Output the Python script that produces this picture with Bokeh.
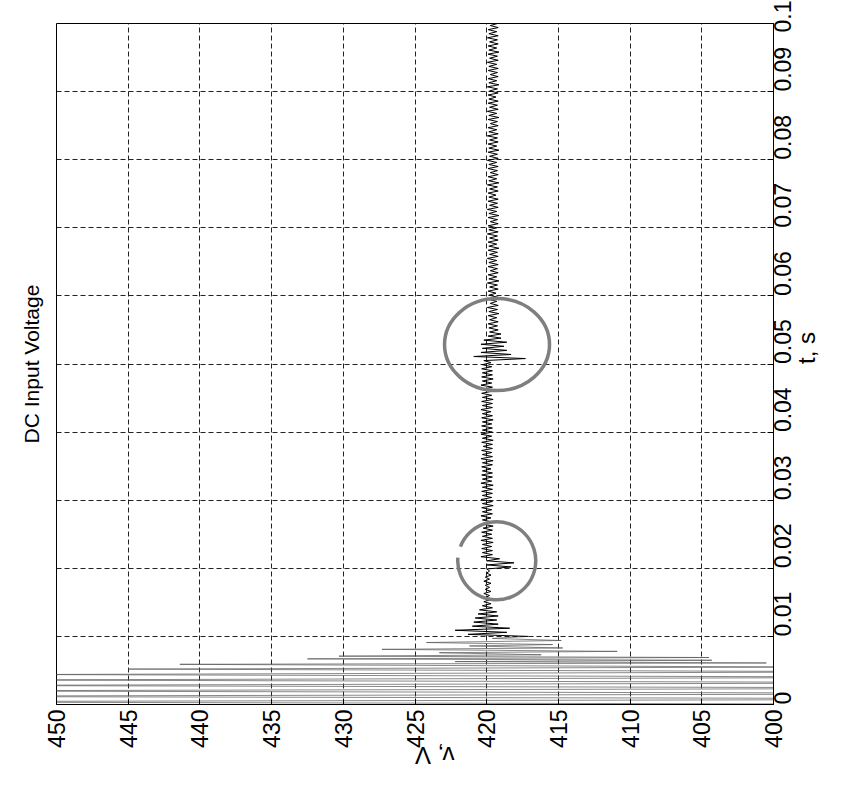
import math
import numpy as np
from bokeh.plotting import figure
from bokeh.models import Range1d, FixedTicker
from bokeh.embed import file_html
from bokeh.resources import INLINE

# ---------------- data ----------------
V_TICKS = [450, 445, 440, 435, 430, 425, 420, 415, 410, 405, 400]
T_TICKS = [0.0, 0.01, 0.02, 0.03, 0.04, 0.05, 0.06, 0.07, 0.08, 0.09, 0.1]
T_TICK_LABELS = ["0", "0.01", "0.02", "0.03", "0.04", "0.05",
                 "0.06", "0.07", "0.08", "0.09", "0.1"]

# start-up transient: successive extrema (time in s, voltage in V)
T_START = [0.0000, 0.0004, 0.0008, 0.0012, 0.0016, 0.0020, 0.0024, 0.0028,
           0.0032, 0.0036, 0.0040, 0.0044, 0.0048, 0.0052, 0.0055, 0.0059,
           0.0061, 0.0063, 0.0065, 0.0067, 0.0069, 0.0071, 0.0073, 0.0076,
           0.0078, 0.0081, 0.0083, 0.0086, 0.0088, 0.0091, 0.0094, 0.0097]
V_START = [380, 468, 372, 465, 376, 461, 379, 458,
           383, 455, 386, 452, 390, 445.0, 398, 441.4,
           400.5, 422.2, 404.3, 432.5, 404.5, 430.3, 416.2, 423.3,
           410.9, 427.3, 414.7, 421.2, 415.4, 424.2, 414.8, 419.6]

# ripple after the transient, sampled every RIPPLE_DT from RIPPLE_T0
RIPPLE_T0 = 0.0100
RIPPLE_DT = 0.0003
V_RIPPLE = [
    417.1, 421.3, 418.6, 422.2, 418.4, 421.0, 419.2, 420.9, 419.3, 420.8,
    419.2, 420.6, 419.3, 420.5, 419.6, 420.3, 419.7, 420.2, 419.7, 420.1,
    419.8, 420.2, 419.7, 420.1, 419.8, 420.1, 419.7, 420.2, 419.8, 420.1,
    419.7, 420.0, 419.8, 420.0, 418.3, 420.0, 418.1, 420.0, 419.1, 420.4,
    419.6, 420.3, 419.6, 420.35, 419.65, 420.3, 419.55, 420.4, 419.6, 420.3,
    419.65, 420.35, 419.6, 420.25, 419.55, 420.35, 419.6, 420.3, 419.7, 420.4,
    419.6, 420.3, 419.65, 420.35, 419.55, 420.3, 419.6, 420.4, 419.65, 420.3,
    419.6, 420.35, 419.6, 420.3, 419.55, 420.4, 419.65, 420.3, 419.6, 420.35,
    419.6, 420.3, 419.7, 420.35, 419.6, 420.3, 419.55, 420.4, 419.6, 420.3,
    419.65, 420.35, 419.6, 420.25, 419.6, 420.35, 419.55, 420.3, 419.65, 420.4,
    419.6, 420.3, 419.6, 420.35, 419.65, 420.3, 419.55, 420.35, 419.6, 420.3,
    419.7, 420.4, 419.6, 420.3, 419.6, 420.35, 419.55, 420.3, 419.65, 420.35,
    419.6, 420.3, 419.6, 420.4, 419.65, 420.3, 419.55, 420.35, 419.6, 420.3,
    419.6, 420.35, 419.65, 420.3, 419.7, 420.2, 417.3, 420.9, 418.3, 420.4,
    418.6, 420.3, 418.8, 420.4, 418.6, 420.2, 419.0, 419.9, 419.0, 419.8,
    419.2, 419.85, 419.25, 419.9, 419.2, 419.8, 419.3, 419.9, 419.15, 419.85,
    419.25, 419.95, 419.2, 419.75, 419.3, 419.9, 419.2, 419.85, 419.35, 419.9,
    419.2, 419.8, 419.25, 419.95, 419.15, 419.85, 419.3, 419.9, 419.2, 419.75,
    419.25, 419.9, 419.2, 419.85, 419.3, 419.95, 419.2, 419.8, 419.25, 419.9,
    419.15, 419.85, 419.3, 419.9, 419.2, 419.8, 419.25, 419.95, 419.2, 419.85,
    419.3, 419.9, 419.2, 419.75, 419.25, 419.9, 419.15, 419.85, 419.3, 419.95,
    419.2, 419.8, 419.25, 419.9, 419.2, 419.85, 419.35, 419.9, 419.2, 419.8,
    419.25, 419.95, 419.15, 419.85, 419.3, 419.9, 419.2, 419.75, 419.25, 419.9,
    419.2, 419.85, 419.3, 419.95, 419.2, 419.8, 419.25, 419.9, 419.15, 419.85,
    419.3, 419.9, 419.2, 419.8, 419.25, 419.95, 419.2, 419.85, 419.3, 419.9,
    419.2, 419.75, 419.25, 419.9, 419.15, 419.85, 419.3, 419.95, 419.2, 419.8,
    419.25, 419.9, 419.2, 419.85, 419.35, 419.9, 419.2, 419.8, 419.25, 419.95,
    419.15, 419.85, 419.3, 419.9, 419.2, 419.75, 419.25, 419.9, 419.2, 419.85,
    419.3, 419.95, 419.2, 419.8, 419.25, 419.9, 419.15, 419.85, 419.3, 419.9,
    419.2, 419.8, 419.25, 419.95, 419.2, 419.85, 419.3, 419.9, 419.2, 419.75,
    419.25,
]

# hand-drawn marks on the scan (centre voltage, centre time)
MARK1_CENTER = (419.3, 0.0211)
MARK2_CENTER = (419.28, 0.05285)

# ---------------- build ----------------
t_ripple = RIPPLE_T0 + RIPPLE_DT * np.arange(len(V_RIPPLE))
t_start = np.array(T_START)
v_start = np.array(V_START, dtype=float)
v_ripple = np.array(V_RIPPLE)

FONT = "Liberation Sans"

p = figure(width=843, height=785,
           x_range=Range1d(450, 400), y_range=Range1d(0, 0.1),
           output_backend="svg", toolbar_location=None,
           y_axis_location="right", x_axis_location="below",
           title="DC Input Voltage", title_location="left",
           min_border_left=56, min_border_right=70,
           min_border_top=23, min_border_bottom=78)

p.background_fill_color = "white"
p.border_fill_color = "white"
p.outline_line_color = "black"
p.outline_line_width = 1

p.title.text_font = FONT
p.title.text_font_size = "21px"
p.title.text_font_style = "normal"
p.title.text_color = "black"
p.title.align = "center"
p.title.standoff = 27

p.xaxis.ticker = FixedTicker(ticks=V_TICKS)
p.yaxis.ticker = FixedTicker(ticks=T_TICKS)
p.yaxis.major_label_overrides = {t: lab for t, lab in zip(T_TICKS, T_TICK_LABELS)}

for ax in (p.xaxis[0], p.yaxis[0]):
    ax.major_label_text_font = FONT
    ax.major_label_text_font_size = "23px"
    ax.major_label_text_color = "black"
    ax.major_tick_in = 6
    ax.major_tick_out = 0
    ax.major_tick_line_color = "black"
    ax.minor_tick_line_color = None
    ax.axis_line_color = "black"
    ax.major_label_orientation = math.pi / 2
    ax.axis_label_text_font = FONT
    ax.axis_label_text_font_size = "24px"
    ax.axis_label_text_font_style = "normal"
    ax.axis_label_text_color = "black"

p.xaxis.major_label_standoff = 5
p.yaxis.major_label_standoff = 9

p.xaxis.axis_label = "v, V"
p.xaxis.axis_label_orientation = math.pi
p.xaxis.axis_label_standoff = 5
p.yaxis.axis_label = "t, s"
p.yaxis.axis_label_orientation = math.pi / 2
p.yaxis.axis_label_standoff = 4

p.xgrid.ticker = FixedTicker(ticks=V_TICKS)
p.ygrid.ticker = FixedTicker(ticks=T_TICKS)
for g in (p.xgrid[0], p.ygrid[0]):
    g.grid_line_color = "#222222"
    g.grid_line_width = 1
    g.grid_line_dash = "5 3"

# trace: start-up part (thin, appears grey in the scan) then the ripple
p.line(x=np.append(v_start, v_ripple[0]), y=np.append(t_start, t_ripple[0]),
       line_color="#555555", line_width=0.7)
p.line(x=v_ripple, y=t_ripple, line_color="black", line_width=1.0)

# hand-drawn circles
p.arc(x=[MARK1_CENTER[0]], y=[MARK1_CENTER[1]], radius=39, radius_units="screen",
      start_angle=3.06, end_angle=2.77 + 2 * math.pi, direction="anticlock",
      line_color="#7f7f7f", line_width=3.5)
p.ellipse(x=[MARK2_CENTER[0]], y=[MARK2_CENTER[1]], width=105, height=92,
          width_units="screen", height_units="screen",
          fill_color=None, line_color="#7f7f7f", line_width=3.5)

open("out.html", "w").write(file_html(p, INLINE))
